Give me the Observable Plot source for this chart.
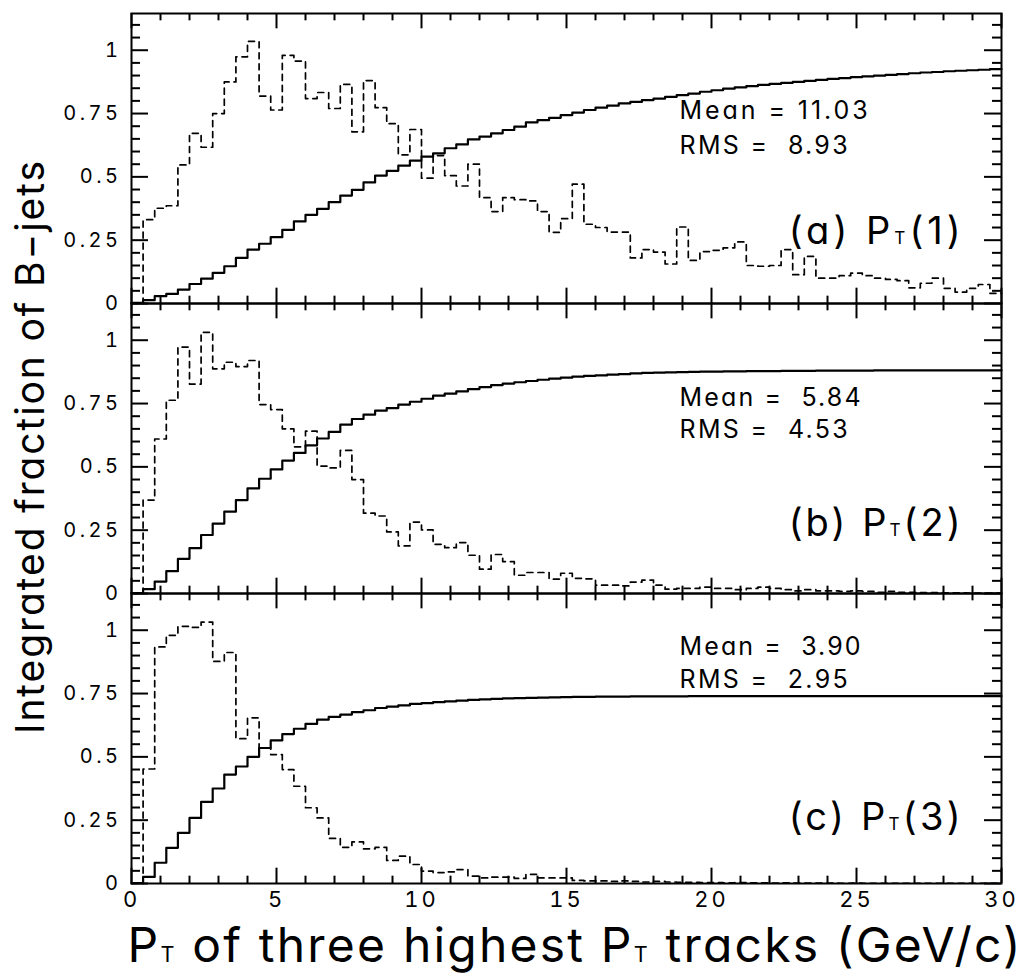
<!DOCTYPE html>
<html>
<head>
<meta charset="utf-8">
<script src="https://cdn.jsdelivr.net/npm/d3@7"></script>
<script src="https://cdn.jsdelivr.net/npm/@observablehq/plot@0.6"></script>
<style>
  html, body { margin: 0; padding: 0; background: #fff; overflow: hidden; }
  #chart svg { display: block; }
</style>
</head>
<body>
<div id="chart"></div>
<script>
// ---------------- data ----------------
const binWidth = 0.4;                 // GeV/c per histogram bin
const panels = ["a", "b", "c"];
const panelNames = ["(a) P_T(1)", "(b) P_T(2)", "(c) P_T(3)"];
const means = [11.03, 5.84, 3.90];
const rmss = [8.93, 4.53, 2.95];

// dashed: differential distribution (arbitrary normalisation)
const dashedA = [0, 0.331, 0.376, 0.386, 0.547, 0.672, 0.617, 0.750, 0.875, 0.974,
  1.035, 0.819, 0.764, 0.980, 0.957, 0.809, 0.833, 0.770, 0.865, 0.678,
  0.880, 0.773, 0.710, 0.587, 0.687, 0.495, 0.584, 0.505, 0.464, 0.550,
  0.418, 0.363, 0.418, 0.410, 0.405, 0.363, 0.281, 0.335, 0.471, 0.313,
  0.300, 0.282, 0.282, 0.180, 0.213, 0.203, 0.156, 0.302, 0.170, 0.205,
  0.210, 0.220, 0.243, 0.150, 0.147, 0.150, 0.213, 0.114, 0.186, 0.100,
  0.100, 0.110, 0.120, 0.110, 0.100, 0.095, 0.090, 0.062, 0.080, 0.100,
  0.060, 0.045, 0.060, 0.075, 0.040];
const dashedB = [0, 0.369, 0.610, 0.763, 0.973, 0.827, 1.031, 0.887, 0.913, 0.896,
  0.920, 0.746, 0.726, 0.650, 0.579, 0.641, 0.503, 0.496, 0.565, 0.450,
  0.317, 0.306, 0.243, 0.188, 0.282, 0.251, 0.194, 0.181, 0.201, 0.151,
  0.096, 0.154, 0.126, 0.072, 0.083, 0.083, 0.057, 0.080, 0.060, 0.058,
  0.033, 0.033, 0.030, 0.045, 0.053, 0.033, 0.017, 0.020, 0.020, 0.025,
  0.020, 0.020, 0.015, 0.020, 0.025, 0.020, 0.015, 0.010, 0.015, 0.010,
  0.010, 0.008, 0.010, 0.008, 0.005, 0.008, 0.005, 0.005, 0.004, 0.004,
  0.003, 0.003, 0.002, 0.002, 0.002];
const dashedC = [0, 0.452, 0.934, 0.980, 1.015, 1.011, 1.032, 0.877, 0.912, 0.572,
  0.654, 0.535, 0.509, 0.450, 0.384, 0.299, 0.259, 0.178, 0.143, 0.164,
  0.137, 0.143, 0.091, 0.108, 0.075, 0.049, 0.043, 0.046, 0.055, 0.029,
  0.022, 0.025, 0.025, 0.020, 0.036, 0.022, 0.022, 0.022, 0.012, 0.010,
  0.010, 0.008, 0.010, 0.008, 0.006, 0.008, 0.006, 0.005, 0.005, 0.004,
  0.004, 0.003, 0.004, 0.003, 0.003, 0.002, 0.003, 0.002, 0.002, 0.002,
  0.002, 0.001, 0.002, 0.001, 0.001, 0.001, 0.001, 0.001, 0.001, 0.001,
  0.001, 0.001, 0.001, 0.001, 0.001];

// solid: integrated fraction of B-jets
const solidA = [0.003, 0.013, 0.029, 0.038, 0.055, 0.077, 0.098, 0.121, 0.147, 0.180,
  0.213, 0.236, 0.262, 0.291, 0.324, 0.350, 0.374, 0.400, 0.426, 0.449,
  0.478, 0.505, 0.524, 0.544, 0.564, 0.580, 0.593, 0.613, 0.628, 0.648,
  0.659, 0.672, 0.685, 0.698, 0.715, 0.724, 0.733, 0.744, 0.754, 0.764,
  0.773, 0.781, 0.790, 0.796, 0.803, 0.809, 0.816, 0.823, 0.829, 0.836,
  0.842, 0.848, 0.853, 0.858, 0.863, 0.867, 0.871, 0.875, 0.879, 0.883,
  0.887, 0.890, 0.894, 0.897, 0.900, 0.903, 0.906, 0.909, 0.912, 0.914,
  0.917, 0.919, 0.921, 0.923, 0.925];
const solidB = [0.002, 0.017, 0.047, 0.088, 0.137, 0.179, 0.231, 0.276, 0.323, 0.369,
  0.415, 0.453, 0.490, 0.525, 0.555, 0.585, 0.612, 0.638, 0.667, 0.689,
  0.706, 0.722, 0.732, 0.746, 0.757, 0.769, 0.781, 0.789, 0.798, 0.807,
  0.815, 0.823, 0.829, 0.834, 0.839, 0.844, 0.848, 0.852, 0.856, 0.859,
  0.861, 0.864, 0.866, 0.869, 0.871, 0.872, 0.873, 0.874, 0.875, 0.876,
  0.876, 0.877, 0.877, 0.878, 0.878, 0.878, 0.879, 0.879, 0.879, 0.880,
  0.880, 0.880, 0.880, 0.880, 0.881, 0.881, 0.881, 0.881, 0.881, 0.881,
  0.881, 0.881, 0.881, 0.881, 0.881];
const solidC = [0.002, 0.026, 0.082, 0.141, 0.200, 0.259, 0.322, 0.375, 0.430, 0.462,
  0.500, 0.535, 0.565, 0.590, 0.611, 0.630, 0.647, 0.658, 0.667, 0.677,
  0.684, 0.693, 0.698, 0.703, 0.709, 0.712, 0.716, 0.719, 0.722, 0.725,
  0.727, 0.729, 0.731, 0.732, 0.733, 0.734, 0.735, 0.736, 0.737, 0.737,
  0.738, 0.738, 0.738, 0.739, 0.739, 0.739, 0.739, 0.739, 0.740, 0.740,
  0.740, 0.740, 0.740, 0.740, 0.740, 0.740, 0.740, 0.740, 0.740, 0.740,
  0.740, 0.740, 0.740, 0.740, 0.740, 0.740, 0.740, 0.740, 0.740, 0.740,
  0.740, 0.740, 0.740, 0.740, 0.740];

// axis ticks
const xLabelTicks = [0, 5, 10, 15, 20, 25, 30];
const xMinorTicks = [1,2,3,4,6,7,8,9,11,12,13,14,16,17,18,19,21,22,23,24,26,27,28,29];
const yLabelTicks = [0, 0.25, 0.5, 0.75, 1];
const yMinorTicks = [0.05,0.1,0.15,0.2,0.3,0.35,0.4,0.45,0.55,0.6,0.65,0.7,0.8,0.85,0.9,0.95,1.05,1.1];
const xTitle = "P_T of three highest P_T tracks (GeV/c)";
const yTitle = "Integrated fraction of B\u2212jets";

// ---------------- layout ----------------
const W = 1023, H = 975;
const M = {top: 12, right: 22, bottom: 91, left: 131};
const fh = (H - M.top - M.bottom) / panels.length;
const fw = W - M.left - M.right;
const layout = {
  statsX: 18.9, meanY: [0.7295, 0.739, 0.903], rmsY: [0.592, 0.613, 0.773],
  meanLen: [188, 181, 181], rmsLen: [168, 168, 168],
  labelX: 28.59, labelY: [0.233, 0.227, 0.213], labelLen: 172,
  xTitleLen: 893, yTitleLen: 573
};

// ---------------- tables ----------------
const solidSeries = [solidA, solidB, solidC];
const dashedSeries = [dashedA, dashedB, dashedC];
function steps(series) {
  const out = [];
  panels.forEach((p, k) => {
    const vals = series[k];
    vals.forEach((v, i) => out.push({panel: p, x: i * binWidth, v}));
    out.push({panel: p, x: vals.length * binWidth, v: vals[vals.length - 1]});
  });
  return out;
}
const solidRows = steps(solidSeries);
const dashedRows = steps(dashedSeries);
const f52 = d3.format("5.2f");
const statRows = panels.map((p, i) => ({
  panel: p,
  mean: `Mean = ${f52(means[i])}`,
  rms: `RMS = ${f52(rmss[i])}`,
  meanY: layout.meanY[i], rmsY: layout.rmsY[i],
  name: panelNames[i], labelY: layout.labelY[i]
}));

const tickW = 2;
const chart = Plot.plot({
  width: W, height: H,
  marginTop: M.top, marginRight: M.right, marginBottom: M.bottom, marginLeft: M.left,
  style: {fontFamily: "Inter, 'DejaVu Sans', sans-serif", color: "#000", background: "#fff", overflow: "visible"},
  x: {domain: [0, 30], axis: null},
  y: {domain: [0, 1.145], axis: null},
  fy: {domain: panels, padding: 0, axis: null},
  marks: [
    // ticks (inward, on all four sides of each panel)
    Plot.tickX(xMinorTicks, {x: d => d, insetTop: fh - 8, strokeWidth: tickW}),
    Plot.tickX(xMinorTicks, {x: d => d, insetBottom: fh - 8, strokeWidth: tickW}),
    Plot.tickX(xLabelTicks, {x: d => d, insetTop: fh - 16, strokeWidth: tickW}),
    Plot.tickX(xLabelTicks, {x: d => d, insetBottom: fh - 16, strokeWidth: tickW}),
    Plot.tickY(yMinorTicks, {y: d => d, insetRight: fw - 9, strokeWidth: tickW}),
    Plot.tickY(yMinorTicks, {y: d => d, insetLeft: fw - 9, strokeWidth: tickW}),
    Plot.tickY(yLabelTicks, {y: d => d, insetRight: fw - 17, strokeWidth: tickW}),
    Plot.tickY(yLabelTicks, {y: d => d, insetLeft: fw - 17, strokeWidth: tickW}),
    // histograms
    Plot.line(dashedRows, {x: "x", y: "v", fy: "panel", curve: "step-after", stroke: "#000", strokeWidth: 1.7, strokeDasharray: "6,5"}),
    Plot.line(solidRows, {x: "x", y: "v", fy: "panel", curve: "step-after", stroke: "#000", strokeWidth: 2.2}),
    Plot.frame({stroke: "#000", strokeWidth: 2}),
    // axes
    Plot.axisY({ticks: yLabelTicks, tickSize: 0, tickPadding: 10, tickFormat: d => String(d), fontSize: 20, label: null}),
    Plot.axisX({ticks: xLabelTicks, tickSize: 0, tickPadding: 8, tickFormat: d => String(d), fontSize: 22, label: null}),
    // annotations
    Plot.text(statRows, {x: () => layout.statsX, y: "meanY", fy: "panel", text: "mean", textAnchor: "start", lineAnchor: "bottom", fontSize: 25, ariaLabel: () => "mean"}),
    Plot.text(statRows, {x: () => layout.statsX, y: "rmsY", fy: "panel", text: "rms", textAnchor: "start", lineAnchor: "bottom", fontSize: 25, ariaLabel: () => "rms"}),
    Plot.text(statRows, {x: () => layout.labelX, y: "labelY", fy: "panel", text: "name", textAnchor: "end", lineAnchor: "bottom", fontSize: 38, ariaLabel: () => "panel-label"}),
    Plot.text([{panel: "c", t: xTitle}], {fy: "panel", text: "t", frameAnchor: "bottom", textAnchor: "middle", dx: 7.5, dy: 78, lineAnchor: "bottom", fontSize: 48, ariaLabel: () => "x-title"}),
    Plot.text([{panel: "b", t: yTitle}], {fy: "panel", text: "t", frameAnchor: "left", textAnchor: "middle", dx: -88, dy: -1, rotate: -90, lineAnchor: "bottom", fontSize: 39, ariaLabel: () => "y-title"})
  ]
});

document.getElementById("chart").appendChild(chart);

// ---------------- post-processing: fonts, spacing, subscripts ----------------
const root = d3.select(chart);
root.selectAll("text").style("white-space", "pre").attr("xml:space", "preserve").style("font-feature-settings", "'cv11'");
root.selectAll('g[aria-label="y-axis tick label"]').style("font-size", "20px");
root.selectAll('g[aria-label="y-axis tick label"] text').style("letter-spacing", "3.5px");
root.selectAll('g[aria-label="x-axis tick label"]').style("font-size", "22px");
root.selectAll('g[aria-label="x-axis tick label"] text').style("letter-spacing", "3px");
const NS = "http://www.w3.org/2000/svg";
chart.querySelectorAll("text").forEach(t => {
  const s = t.textContent;
  if (!s.includes("_T")) return;
  const parts = s.split("_T");
  t.textContent = "";
  parts.forEach((part, i) => {
    if (i > 0) {
      const ts = document.createElementNS(NS, "tspan");
      ts.setAttribute("font-size", "45%");
      ts.textContent = "T";
      t.appendChild(ts);
    }
    if (part) t.appendChild(document.createTextNode(part));
  });
});
// stretch texts to the widths measured on the reference, via letter spacing
function fit(label, target, shift) {
  root.selectAll(`text[aria-label="${label}"]`).each(function(d, i) {
    const goal = Array.isArray(target) ? target[i] : target;
    this.style.letterSpacing = "0px";
    const w = this.getComputedTextLength();
    if (!(w > 0)) return;
    const n = this.textContent.length;
    const ls = (goal - w) / Math.max(1, n - 1);
    this.style.letterSpacing = `${ls}px`;
    if (shift) this.setAttribute("dx", ls * shift);
  });
}
fit("mean", layout.meanLen, 0);
fit("rms", layout.rmsLen, 0);
fit("panel-label", layout.labelLen, 1);
fit("x-title", layout.xTitleLen, 0.5);
fit("y-title", layout.yTitleLen, 0.5);
</script>
</body>
</html>
